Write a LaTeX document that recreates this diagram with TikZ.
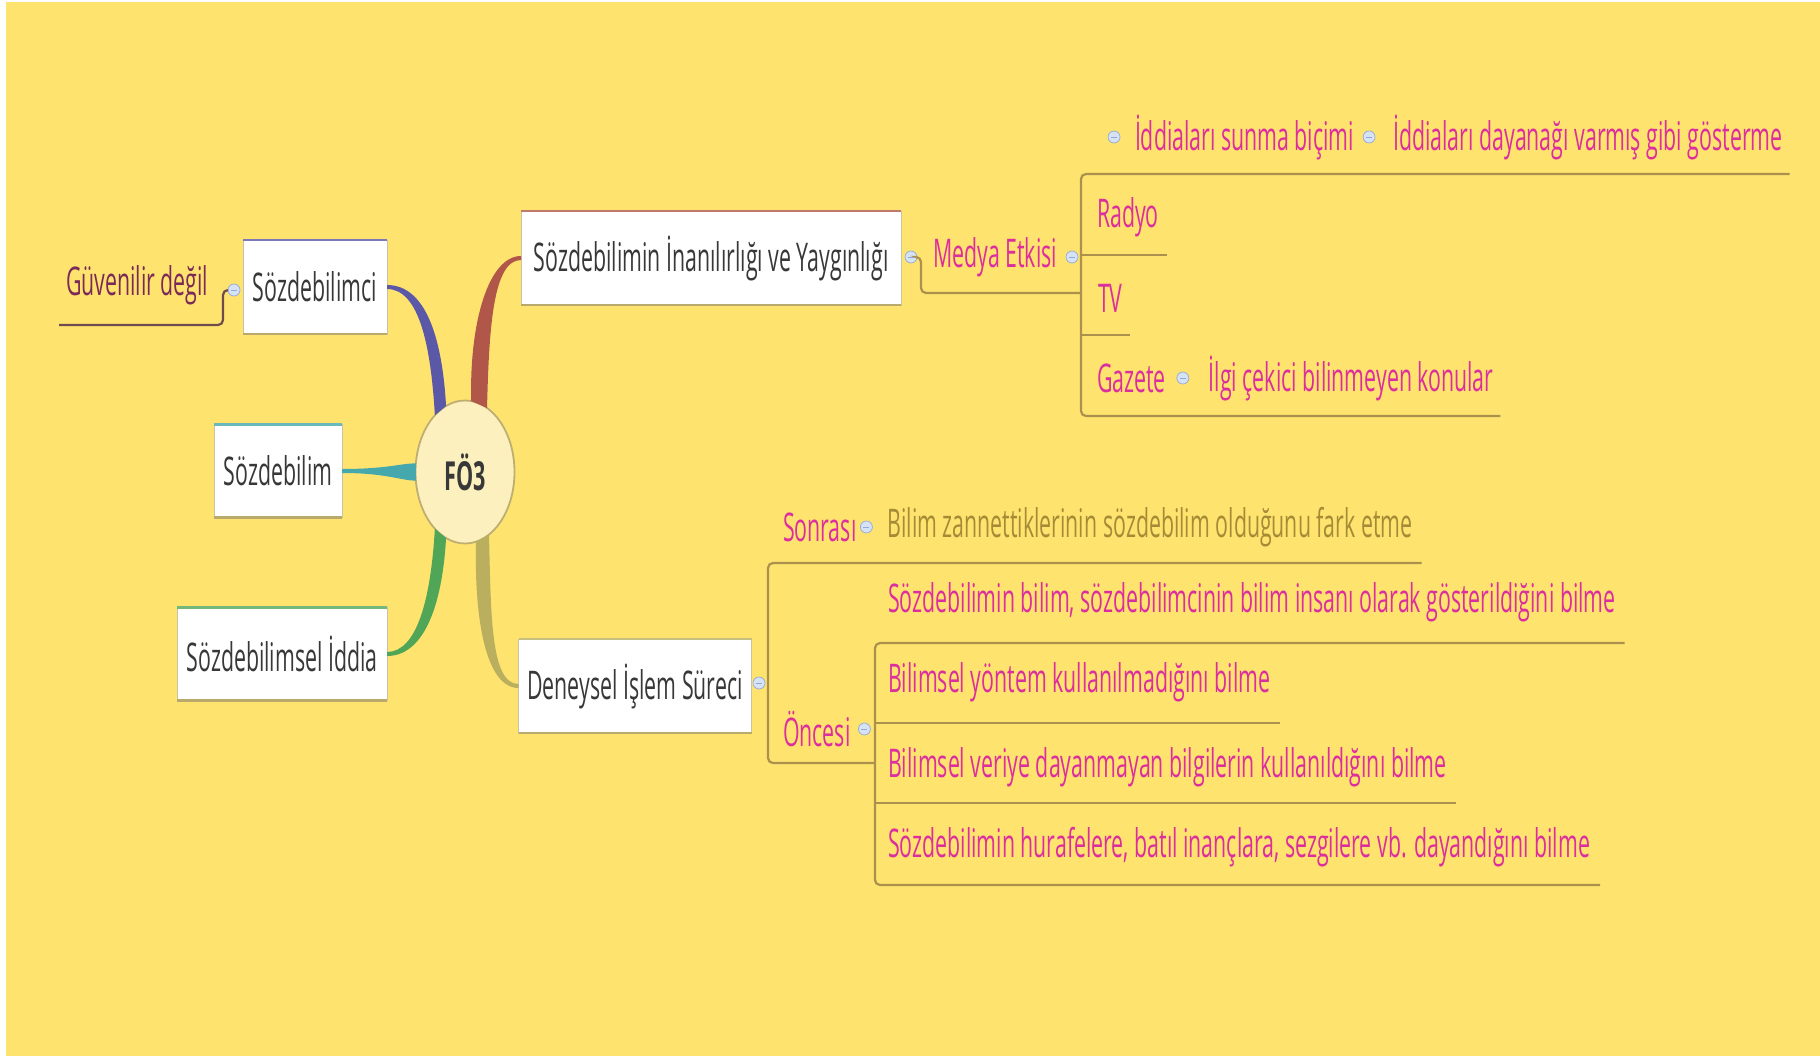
\documentclass[tikz,border=0pt]{standalone}
\usepackage{fontspec}
\setmainfont[FakeStretch=0.54]{Open Sans}
\usetikzlibrary{positioning,shapes.geometric}
\definecolor{mapbg}{HTML}{FEE46F}
\definecolor{boxedge}{HTML}{C9C3A6}
\definecolor{boxshade}{HTML}{B9A96A}
\definecolor{boxtext}{HTML}{383838}
\definecolor{leafpink}{HTML}{DC2E9E}
\definecolor{leafolive}{HTML}{A68B36}
\definecolor{leafmaroon}{HTML}{7B2A57}
\definecolor{linegold}{HTML}{AC914E}
\definecolor{linebrown}{HTML}{6F4B4E}
\definecolor{knobfill}{HTML}{D6E2F5}
\definecolor{knobedge}{HTML}{93A8D6}
\definecolor{brpurple}{HTML}{5B58A7}
\definecolor{brteal}{HTML}{44A8AD}
\definecolor{brgreen}{HTML}{50A656}
\definecolor{brbrown}{HTML}{B0574A}
\definecolor{brolive}{HTML}{B9AF5E}
\definecolor{hubfill}{HTML}{FBF0BE}
\definecolor{hubedge}{HTML}{BFAE72}

\begin{document}
\begin{tikzpicture}[x=1pt, y=-1pt,
    every node/.style = {inner sep=0pt, outer sep=0pt},
    topic/.style = {shape=rectangle, draw=boxedge, line width=1pt, fill=white,
      minimum height=94pt, text=boxtext, font=\fontsize{39.5}{44}\selectfont},
    leaf/.style = {text=leafpink, font=\fontsize{39.5}{44}\selectfont},
    knob/.style = {circle, minimum size=12pt, fill=knobfill, draw=knobedge,
      line width=0.7pt,
      path picture={\draw[knobedge, line width=1pt]
        ([xshift=-3pt]path picture bounding box.center) --
        ([xshift=3pt]path picture bounding box.center);}},
    uline/.style = {draw=linegold, line width=2.2pt, rounded corners=5pt}]

  \useasboundingbox (0,0) rectangle (1820,1060);
  \fill[white] (0,0) rectangle (1820,1060);
  \fill[mapbg] (6,2) rectangle (1820,1056);

  \node[ellipse, draw=hubedge, line width=1.8pt, fill=hubfill,
        minimum width=99pt, minimum height=143pt, text=boxtext,
        font=\fontsize{40}{44}\selectfont\bfseries] (hub) at (465,472) {FÖ3};

  \node[topic, minimum width=144pt] (sci) at (315,287) {Sözdebilimci};
  \node[topic, minimum width=128pt, minimum height=93pt] (szb) at (278,471) {Sözdebilim};
  \node[topic, minimum width=210pt, minimum height=93pt] (szi) at (282,654) {Sözdebilimsel İddia};
  \node[topic, minimum width=380pt] (yay) at (711,258) {Sözdebilimin İnanılırlığı ve Yaygınlığı};
  \node[topic, minimum width=233pt] (dis) at (635,686) {Deneysel İşlem Süreci};

  \foreach \n/\c in {sci/brpurple, szb/brteal, szi/brgreen, yay/brbrown, dis/brolive} {
    \draw[\c!80, line width=2.4pt] (\n.north west) -- (\n.north east);
    \draw[boxshade, line width=2.6pt] (\n.south west) -- (\n.south east);
  }

  % branches
  \fill[brpurple] ([yshift=2pt]sci.east) .. controls +(38,0) and +(-4,-70) .. (hub.106)
    -- (hub.118) .. controls +(-4,-70) and +(32,0) .. ([yshift=-2pt]sci.east) -- cycle;
  \fill[brteal] ([yshift=2pt]szb.east) .. controls +(45,0) and +(-15,0) .. (hub.170)
    -- (hub.190) .. controls +(-15,0) and +(45,0) .. ([yshift=-2pt]szb.east) -- cycle;
  \fill[brgreen] ([yshift=2pt]szi.east) .. controls +(30,0) and +(-4,70) .. (hub.242)
    -- (hub.254) .. controls +(-4,70) and +(36,0) .. ([yshift=-2pt]szi.east) -- cycle;
  \fill[brbrown] (hub.71) .. controls +(2,-80) and +(-28,0) .. ([yshift=-2pt]yay.west)
    -- ([yshift=2pt]yay.west) .. controls +(-32,0) and +(-2,-80) .. (hub.85) -- cycle;
  \fill[brolive] (hub.291) .. controls +(2,80) and +(-28,0) .. ([yshift=2pt]dis.west)
    -- ([yshift=-2pt]dis.west) .. controls +(-32,0) and +(-2,80) .. (hub.279) -- cycle;

  % left leaf
  \node[knob] (k1) at (234,290) {};
  \node[leaf, text=leafmaroon, anchor=west] (gdeg) at (66,285) {Güvenilir değil};
  \coordinate (gend) at (59,325);
  \draw[uline, draw=linebrown] (k1.west) -- ++(-5,0) |- (gend);

  % Medya Etkisi
  \node[knob] (k2) at (911,257) {};
  \node[leaf, anchor=west] (med) at (933,257) {Medya Etkisi};
  \node[knob, right=9pt of med] (k3) {};
  \coordinate (b1t) at (1081,174);
  \coordinate (b1r) at (1081,255);
  \coordinate (b1m) at (1081,293);
  \coordinate (b1v) at (1081,335);
  \coordinate (b1b) at (1081,416);
  \node[knob] (k4) at (1114,137) {};
  \node[leaf, right=15pt of k4] (iss) {İddiaları sunma biçimi};
  \node[knob, right=9pt of iss] (k5) {};
  \node[leaf, right=18pt of k5] (idg) {İddiaları dayanağı varmış gibi gösterme};
  \node[leaf, anchor=west] (rad) at (1097,217) {Radyo};
  \node[leaf, anchor=west] (tv) at (1098,298) {TV};
  \node[leaf, anchor=west] (gaz) at (1097,378) {Gazete};
  \node[knob, right=11pt of gaz] (k6) {};
  \node[leaf, right=20pt of k6] (ilgi) {İlgi çekici bilinmeyen konular};
  \draw[uline] (k2.east) -- ++(4,0) |- (b1m);
  \draw[uline] ([xshift=7pt]idg.east |- b1t) -- (b1t) -- (b1b) -- ([xshift=7pt]ilgi.east |- b1b);
  \draw[uline] (b1r) -- ([xshift=8pt]rad.east |- b1r);
  \draw[uline] (b1v) -- ([xshift=7pt]tv.east |- b1v);

  % Deneysel
  \node[knob] (k7) at (759,683) {};
  \coordinate (b2t) at (768,563);
  \coordinate (b2b) at (768,763);
  \coordinate (b3t) at (875,643);
  \coordinate (b3u) at (875,723);
  \coordinate (b3v) at (875,803);
  \coordinate (b3b) at (875,885);
  \node[leaf, anchor=west] (son) at (783,527) {Sonrası};
  \node[knob, right=4pt of son] (k8) {};
  \node[leaf, text=leafolive, right=15pt of k8] (bz) {Bilim zannettiklerinin sözdebilim olduğunu fark etme};
  \node[leaf, anchor=west] (onc) at (783,729) {Öncesi};
  \node[knob, right=8pt of onc] (k9) {};
  \node[leaf, anchor=west] (r1) at (888,602) {Sözdebilimin bilim, sözdebilimcinin bilim insanı olarak gösterildiğini bilme};
  \node[leaf, anchor=west] (r2) at (888,682) {Bilimsel yöntem kullanılmadığını bilme};
  \node[leaf, anchor=west] (r3) at (888,767) {Bilimsel veriye dayanmayan bilgilerin kullanıldığını bilme};
  \node[leaf, anchor=west] (r4) at (888,847) {Sözdebilimin hurafelere, batıl inançlara, sezgilere vb. dayandığını bilme};
  \draw[uline] ([xshift=9pt]bz.east |- b2t) -- (b2t) -- (b2b) -- (b3b |- b2b);
  \draw[uline] ([xshift=9pt]r1.east |- b3t) -- (b3t) -- (b3b) -- ([xshift=10pt]r4.east |- b3b);
  \draw[uline] (b3u) -- ([xshift=10pt]r2.east |- b3u);
  \draw[uline] (b3v) -- ([xshift=9pt]r3.east |- b3v);
\end{tikzpicture}
\end{document}
